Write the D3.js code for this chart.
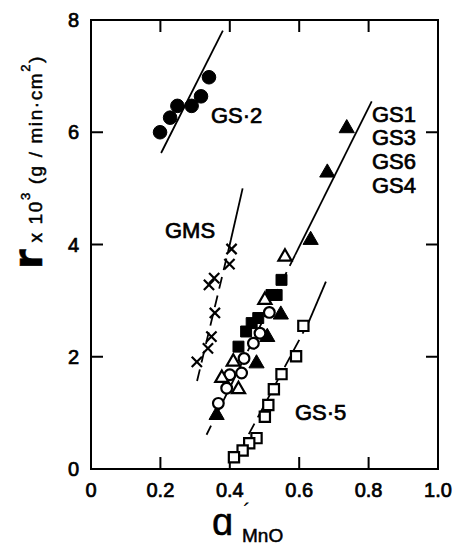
<!DOCTYPE html>
<html>
<head>
<meta charset="utf-8">
<script src="https://cdn.jsdelivr.net/npm/d3@7"></script>
<style>
  body { margin: 0; background: #fff; }
  text { font-family: "Liberation Sans", Arial, sans-serif; fill: #000; }
</style>
</head>
<body>
<script>
// tick values
const xTicks = [0, 0.2, 0.4, 0.6, 0.8, 1.0];
const xTickLabels = ["0", "0.2", "0.4", "0.6", "0.8", "1.0"];
const yTicks = [0, 2, 4, 6, 8];

// GS-2 (filled circles)
const gs2X = [0.199, 0.228, 0.249, 0.290, 0.317, 0.340];
const gs2Y = [6.00, 6.26, 6.47, 6.47, 6.64, 6.98];

// GMS (crosses)
const gmsX = [0.405, 0.399, 0.355, 0.340, 0.357, 0.347, 0.337, 0.305];
const gmsY = [3.92, 3.65, 3.40, 3.28, 2.78, 2.36, 2.15, 1.91];

// GS-5 (open squares)
const gs5X = [0.612, 0.591, 0.549, 0.527, 0.511, 0.501, 0.477, 0.456, 0.437, 0.412];
const gs5Y = [2.55, 2.01, 1.69, 1.42, 1.14, 0.93, 0.55, 0.46, 0.33, 0.21];

// GS1/GS3/GS6/GS4 groups
const filledSqX = [0.549, 0.535, 0.520, 0.482, 0.463, 0.447, 0.425];
const filledSqY = [3.37, 3.10, 3.10, 2.69, 2.60, 2.45, 2.18];
const filledTriX = [0.737, 0.681, 0.633, 0.547, 0.508, 0.477, 0.362];
const filledTriY = [6.07, 5.28, 4.08, 2.75, 2.35, 1.88, 0.96];
const openTriX = [0.559, 0.501, 0.410, 0.377, 0.425];
const openTriY = [3.78, 3.01, 1.91, 1.62, 1.42];
const openCircX = [0.514, 0.487, 0.468, 0.441, 0.434, 0.400, 0.391, 0.367];
const openCircY = [2.79, 2.42, 2.24, 1.97, 1.71, 1.68, 1.44, 1.17];

// fitted lines: [x1, y1, x2, y2]
const gs2Solid = [0.202, 5.63, 0.380, 7.81];
const gmsSolid = [0.437, 5.00, 0.403, 4.08];
const gmsDash = [0.403, 4.08, 0.305, 1.55];
const mainSolid = [0.809, 6.55, 0.588, 3.81];
const mainDash = [0.588, 3.81, 0.333, 0.61];
const gs5Solid = [0.677, 3.34, 0.626, 2.60];
const gs5Dash = [0.626, 2.60, 0.440, 0.45];

const width = 456, height = 547;
const margin = {left: 91, right: 18, top: 20, bottom: 78};

const svg = d3.select("body").append("svg")
    .attr("width", width)
    .attr("height", height);

const x = d3.scaleLinear().domain([0, 1]).range([margin.left, width - margin.right]);
const y = d3.scaleLinear().domain([0, 8]).range([height - margin.bottom, margin.top]);

// frame
svg.append("rect")
    .attr("x", x(0)).attr("y", y(8))
    .attr("width", x(1) - x(0)).attr("height", y(0) - y(8))
    .attr("fill", "none").attr("stroke", "#000").attr("stroke-width", 2);

// inward ticks on all four sides
const tl = 12;
const g = svg.append("g").attr("stroke", "#000").attr("stroke-width", 2);
xTicks.slice(1, -1).forEach(v => {
    g.append("line").attr("x1", x(v)).attr("x2", x(v)).attr("y1", y(0)).attr("y2", y(0) - tl);
    g.append("line").attr("x1", x(v)).attr("x2", x(v)).attr("y1", y(8)).attr("y2", y(8) + tl);
});
yTicks.slice(1, -1).forEach(v => {
    g.append("line").attr("y1", y(v)).attr("y2", y(v)).attr("x1", x(0)).attr("x2", x(0) + tl);
    g.append("line").attr("y1", y(v)).attr("y2", y(v)).attr("x1", x(1)).attr("x2", x(1) - tl);
});

// tick labels
svg.append("g").selectAll("text")
    .data(xTicks)
    .join("text")
    .attr("x", d => x(d))
    .attr("y", 497)
    .attr("text-anchor", "middle")
    .attr("font-size", 20)
    .attr("stroke", "#000").attr("stroke-width", 0.7)
    .text((d, i) => xTickLabels[i]);

svg.append("g").selectAll("text")
    .data(yTicks)
    .join("text")
    .attr("x", 79)
    .attr("y", d => y(d) + 7)
    .attr("text-anchor", "end")
    .attr("font-size", 20)
    .attr("stroke", "#000").attr("stroke-width", 0.7)
    .text(d => d);

// fit lines
function drawLine(seg, dash) {
    svg.append("line")
        .attr("x1", x(seg[0])).attr("y1", y(seg[1]))
        .attr("x2", x(seg[2])).attr("y2", y(seg[3]))
        .attr("stroke", "#000").attr("stroke-width", 1.8)
        .attr("stroke-dasharray", dash ? "12,7" : null);
}
drawLine(gs2Solid, false);
drawLine(gmsSolid, false);
drawLine(gmsDash, true);
drawLine(mainSolid, false);
drawLine(mainDash, true);
drawLine(gs5Solid, false);
drawLine(gs5Dash, true);

// markers
function drawSymbols(xs, ys, type, size, filled) {
    svg.append("g").selectAll("path")
        .data(xs.map((v, i) => [v, ys[i]]))
        .join("path")
        .attr("transform", d => `translate(${x(d[0])},${y(d[1])})`)
        .attr("d", d3.symbol().type(type).size(size))
        .attr("fill", filled ? "#000" : "#fff")
        .attr("stroke", "#000")
        .attr("stroke-width", filled ? 1 : 2.2);
}
const tri = d3.symbolTriangle;
drawSymbols(filledSqX, filledSqY, d3.symbolSquare, 120, true);
drawSymbols(filledTriX, filledTriY, tri, 100, true);
drawSymbols(openCircX, openCircY, d3.symbolCircle, 90, false);
drawSymbols(openTriX, openTriY, tri, 75, false);
drawSymbols(gs5X, gs5Y, d3.symbolSquare, 105, false);
drawSymbols(gs2X, gs2Y, d3.symbolCircle, 145, true);

const times = d3.symbolTimes || d3.symbolX;
svg.append("g").selectAll("path")
    .data(gmsX.map((v, i) => [v, gmsY[i]]))
    .join("path")
    .attr("transform", d => `translate(${x(d[0])},${y(d[1])})`)
    .attr("d", d3.symbol().type(times).size(70))
    .attr("fill", "none")
    .attr("stroke", "#000")
    .attr("stroke-width", 2.2);

// series labels
function label(txt, px, py) {
    svg.append("text")
        .attr("x", px).attr("y", py)
        .attr("font-size", 22)
        .attr("stroke", "#000").attr("stroke-width", 0.7)
        .text(txt);
}
label("GS·2", 211, 123);
label("GMS", 165, 238);
label("GS·5", 295, 420);
label("GS1", 372, 122);
label("GS3", 372, 145);
label("GS6", 372, 169);
label("GS4", 372, 193);

// y axis title
const yt = svg.append("text")
    .attr("transform", "translate(42,269) rotate(-90)")
    .attr("stroke", "#000").attr("stroke-width", 0.5)
    .attr("letter-spacing", 1.6);
yt.append("tspan").attr("font-size", 40).attr("font-weight", "bold")
    .attr("font-family", "DejaVu Sans").attr("letter-spacing", 0).text("r");
yt.append("tspan").attr("font-size", 19).text(" x 10");
yt.append("tspan").attr("font-size", 13).attr("dy", -12).text("3");
yt.append("tspan").attr("font-size", 19).attr("dy", 12).text("  (g / min·cm");
yt.append("tspan").attr("font-size", 13).attr("dy", -12).text("2");
yt.append("tspan").attr("font-size", 19).attr("dy", 12).text(")");

// x axis title
svg.append("text")
    .attr("x", 212).attr("y", 535)
    .attr("font-size", 38).attr("font-family", "DejaVu Sans")
    .attr("stroke", "#000").attr("stroke-width", 0.5)
    .text("ɑ");
svg.append("text").attr("x", 243).attr("y", 520).attr("font-size", 24).text("´");
svg.append("text").attr("x", 242).attr("y", 542).attr("font-size", 19)
    .attr("stroke", "#000").attr("stroke-width", 0.5).text("MnO");
</script>
</body>
</html>
